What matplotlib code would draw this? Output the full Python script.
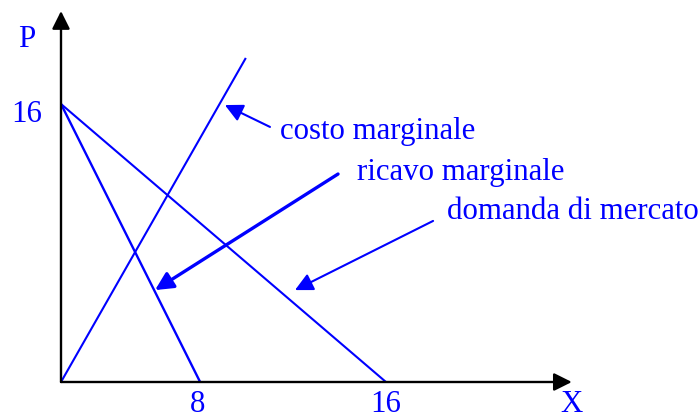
import matplotlib
matplotlib.use("Agg")
import matplotlib.pyplot as plt

# ---- data (in chart units) ----
demand_x = [0, 16]
demand_p = [16, 0]
mr_x = [0, 6.85]
mr_p = [16, 0]
mc_x = [0, 9.1]
mc_p = [0, 18.65]

x_tick_pos = [6.7, 16]
x_tick_labels = ["8", "16"]
y_tick_pos = [15.4]
y_tick_labels = ["16"]

labels = ["costo marginale", "ricavo marginale", "domanda di mercato"]
label_pos = [(10.8, 14.4), (14.55, 12.05), (19.0, 9.8)]
arrow_tails = [(10.29, 14.68), (13.64, 11.97), (18.32, 9.27)]
arrow_tips = [(8.07, 15.94), (4.63, 5.29), (11.52, 5.29)]
arrow_widths = [1.5, 2.4, 1.5]

x_axis_end = 25.15
y_axis_end = 21.35

BLUE = "#0000ff"
FONT = "Liberation Serif"
FS = 22.2

fig = plt.figure(figsize=(7, 4.2), dpi=100)
ax = fig.add_axes([0, 0, 1, 1])
# pixel mapping: x: px = 61 + 20.31*x ; y: py = 382 - 17.375*p
ax.set_xlim(-61 / 20.31, (700 - 61) / 20.31)
ax.set_ylim(-(420 - 382) / 17.375, 382 / 17.375)
ax.axis("off")

# axes with arrowheads
ah = "-|>,head_length=0.4,head_width=0.2"
ax.annotate("", xy=(x_axis_end, 0), xytext=(0, 0),
            arrowprops=dict(arrowstyle=ah, color="black", lw=1.7,
                            mutation_scale=27, shrinkA=0, shrinkB=0))
ax.annotate("", xy=(0, y_axis_end), xytext=(0, 0),
            arrowprops=dict(arrowstyle=ah, color="black", lw=1.7,
                            mutation_scale=27, shrinkA=0, shrinkB=0))

# curves
ax.plot(demand_x, demand_p, color=BLUE, lw=1.5, solid_capstyle="butt")
ax.plot(mr_x, mr_p, color=BLUE, lw=1.7, solid_capstyle="butt")
ax.plot(mc_x, mc_p, color=BLUE, lw=1.5, solid_capstyle="butt")

# tick labels
for xp, lab in zip(x_tick_pos, x_tick_labels):
    ax.text(xp, -1.3, lab, color=BLUE, family=FONT, fontsize=FS,
            ha="center", va="center")
for yp, lab in zip(y_tick_pos, y_tick_labels):
    ax.text(-1.68, yp, lab, color=BLUE, family=FONT, fontsize=FS,
            ha="center", va="center")
ax.text(-1.68, 19.7, "P", color=BLUE, family=FONT, fontsize=FS,
        ha="center", va="center")
ax.text(x_axis_end, -1.3, "X", color=BLUE, family=FONT, fontsize=FS,
        ha="center", va="center")

# annotation labels and arrows
for lab, (lx, ly), tail, tip, w in zip(labels, label_pos, arrow_tails,
                                       arrow_tips, arrow_widths):
    ax.text(lx, ly, lab, color=BLUE, family=FONT, fontsize=FS,
            ha="left", va="center")
    ax.annotate("", xy=tip, xytext=tail,
                arrowprops=dict(arrowstyle=ah, color=BLUE, lw=w,
                                mutation_scale=27, shrinkA=0, shrinkB=0))

fig.savefig("out.png", dpi=100)
